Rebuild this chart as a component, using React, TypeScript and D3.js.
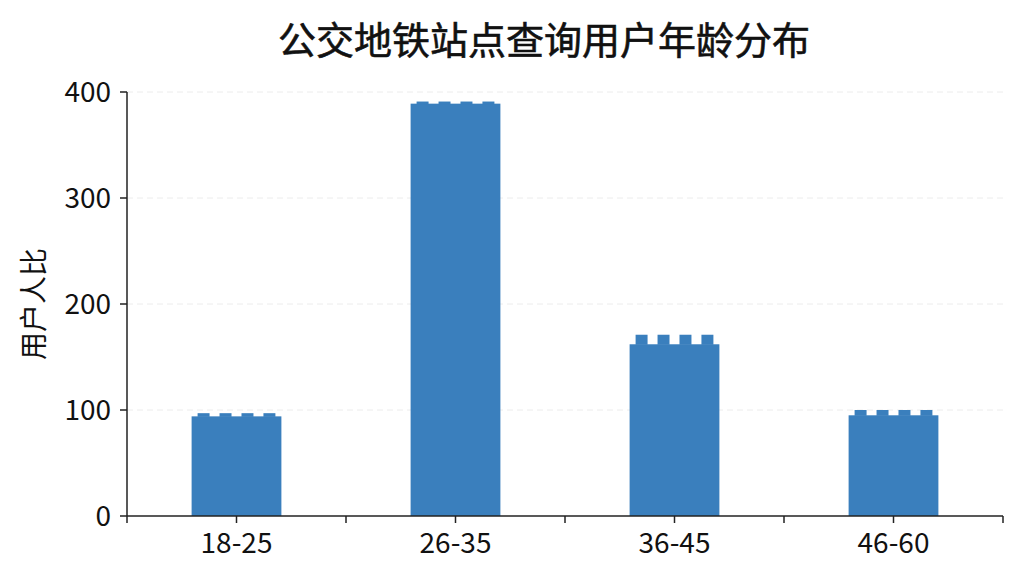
import React from "react";
import * as d3 from "d3";

const categories = ["18-25", "26-35", "36-45", "46-60"];
const baseValues = [94, 389, 162, 95];
const topValues = [97, 391, 171, 100];
const yTicks = [0, 100, 200, 300, 400];
const merlons = [0, 1, 2, 3];

const W = 1024;
const H = 576;
const margin = { left: 127, right: 21, top: 92, bottom: 60 };
const FONT = "'Noto Sans CJK SC', 'Noto Sans', sans-serif";
const BAR = "#3a7fbd";

export default function App() {
  const x = d3
    .scaleBand<string>()
    .domain(categories)
    .range([margin.left, W - margin.right])
    .paddingInner(0.59)
    .paddingOuter(0.295);
  const band = d3
    .scaleBand<string>()
    .domain(categories)
    .range([margin.left, W - margin.right]);
  const y = d3
    .scaleLinear()
    .domain([0, 400])
    .range([H - margin.bottom, margin.top]);
  const y0 = y(0);

  const boundaries = categories.map((c) => band(c) as number).concat([W - margin.right]);

  return (
    <svg
      width={W}
      height={H}
      style={{ position: "absolute", left: 0, top: 0, background: "#fff" }}
      fontFamily={FONT}
    >
      <rect x={0} y={0} width={W} height={H} fill="#fff" />
      <text
        x={544}
        y={54}
        textAnchor="middle"
        fontSize={38}
        fill="#111"
        stroke="#111"
        strokeWidth={0.6}
      >
        公交地铁站点查询用户年龄分布
      </text>
      {yTicks.slice(1).map((t) => (
        <line
          key={"g" + t}
          x1={margin.left}
          x2={W - margin.right}
          y1={y(t)}
          y2={y(t)}
          stroke="#ececec"
          strokeDasharray="6,4"
          strokeWidth={1}
        />
      ))}
      {categories.map((c, i) => {
        const bx = x(c) as number;
        const bw = x.bandwidth();
        const m = d3
          .scaleBand<number>()
          .domain(merlons)
          .range([bx, bx + bw])
          .paddingInner(0.4545)
          .paddingOuter(0.273);
        return (
          <g key={c}>
            <rect x={bx} y={y(baseValues[i])} width={bw} height={y0 - y(baseValues[i])} fill={BAR} />
            {merlons.map((k) => (
              <rect
                key={k}
                x={m(k) as number}
                y={y(topValues[i])}
                width={m.bandwidth()}
                height={y(baseValues[i]) - y(topValues[i]) + 0.5}
                fill={BAR}
              />
            ))}
          </g>
        );
      })}
      <line x1={margin.left} x2={margin.left} y1={y(400)} y2={y0} stroke="#222" strokeWidth={1.5} />
      {yTicks.map((t) => (
        <g key={"y" + t}>
          <line x1={margin.left - 7} x2={margin.left} y1={y(t)} y2={y(t)} stroke="#222" strokeWidth={1.5} />
          <text x={margin.left - 16} y={y(t)} dy="0.36em" textAnchor="end" fontSize={28} fill="#111">
            {t}
          </text>
        </g>
      ))}
      <line x1={margin.left} x2={W - margin.right} y1={y0} y2={y0} stroke="#222" strokeWidth={1.5} />
      {boundaries.map((b, i) => (
        <line key={"b" + i} x1={b} x2={b} y1={y0} y2={y0 + 7} stroke="#222" strokeWidth={1.5} />
      ))}
      {categories.map((c) => {
        const cx = (band(c) as number) + band.bandwidth() / 2;
        return (
          <g key={"x" + c}>
            <line x1={cx} x2={cx} y1={y0} y2={y0 + 7} stroke="#222" strokeWidth={1.5} />
            <text x={cx} y={553} textAnchor="middle" fontSize={28} fill="#111">
              {c}
            </text>
          </g>
        );
      })}
      <text
        transform={`translate(44, ${(y(400) + y0) / 2}) rotate(-90)`}
        textAnchor="middle"
        fontSize={28}
        fill="#111"
      >
        用户人比
      </text>
    </svg>
  );
}
